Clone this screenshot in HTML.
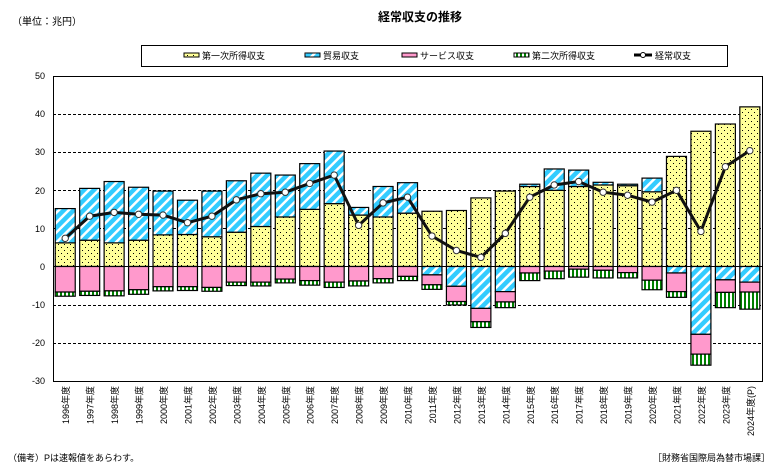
<!DOCTYPE html>
<html><head><meta charset="utf-8">
<style>
body{margin:0;background:#fff;}
svg{display:block;font-family:"Liberation Sans","Noto Sans CJK JP",sans-serif;}
</style></head>
<body>
<svg id="s" width="777" height="470" xmlns="http://www.w3.org/2000/svg">
<defs>
<pattern id="dots" width="6" height="6" patternUnits="userSpaceOnUse"><rect width="6" height="6" fill="#FFFF99"/><rect x="1" y="1" width="1" height="1" fill="#000"/><rect x="4" y="4" width="1" height="1" fill="#000"/></pattern>
<pattern id="diag" width="7" height="7" patternUnits="userSpaceOnUse" patternTransform="rotate(45)"><rect width="7" height="7" fill="#33CCFF"/><rect width="2.5" height="7" fill="#fff"/></pattern>
<pattern id="vert" width="4" height="4" patternUnits="userSpaceOnUse"><rect width="4" height="4" fill="#fff"/><rect width="2" height="4" fill="#008000"/></pattern>
</defs>
<text x="12" y="25" font-size="10">（単位：兆円）</text>
<text x="420" y="21" font-size="12" font-weight="bold" text-anchor="middle">経常収支の推移</text>
<rect x="141.5" y="45.5" width="586" height="21" fill="#fff" stroke="#000"/>
<rect x="184" y="53" width="15" height="4" fill="url(#dots)" stroke="#000" stroke-width="1"/><text x="202" y="59" font-size="9">第一次所得収支</text>
<rect x="305" y="53" width="15" height="4" fill="url(#diag)" stroke="#000"/><text x="323" y="59" font-size="9">貿易収支</text>
<rect x="402" y="53" width="15" height="4" fill="#FF99CC" stroke="#000"/><text x="420" y="59" font-size="9">サービス収支</text>
<rect x="514" y="53" width="15" height="4" fill="url(#vert)" stroke="#000"/><text x="532" y="59" font-size="9">第二次所得収支</text>
<line x1="634" y1="55" x2="652" y2="55" stroke="#000" stroke-width="3"/><circle cx="643" cy="55" r="2.5" fill="#fff" stroke="#000"/><text x="655" y="59" font-size="9">経常収支</text>
<g font-size="9" text-anchor="end">
<text x="45" y="79">50</text><text x="45" y="117">40</text><text x="45" y="155">30</text><text x="45" y="194">20</text><text x="45" y="232">10</text><text x="45" y="270">0</text><text x="45" y="308">-10</text><text x="45" y="346">-20</text><text x="45" y="384">-30</text>
</g>
<g stroke="#000" stroke-dasharray="3,2" stroke-width="1">
<line x1="53" y1="114.5" x2="762" y2="114.5"/><line x1="53" y1="152.5" x2="762" y2="152.5"/><line x1="53" y1="190.5" x2="762" y2="190.5"/><line x1="53" y1="228.5" x2="762" y2="228.5"/><line x1="53" y1="305.5" x2="762" y2="305.5"/><line x1="53" y1="343.5" x2="762" y2="343.5"/>
</g>
<g id="bars"></g>
<line x1="53" y1="266.5" x2="762" y2="266.5" stroke="#000"/>
<g id="ln"></g>
<rect x="53.5" y="76.5" width="709" height="305" fill="none" stroke="#000"/>
<g font-size="9" text-anchor="end">
<text transform="translate(69.2,386) rotate(-90)">1996年度</text>
<text transform="translate(93.7,386) rotate(-90)">1997年度</text>
<text transform="translate(118.1,386) rotate(-90)">1998年度</text>
<text transform="translate(142.6,386) rotate(-90)">1999年度</text>
<text transform="translate(167,386) rotate(-90)">2000年度</text>
<text transform="translate(191.5,386) rotate(-90)">2001年度</text>
<text transform="translate(215.9,386) rotate(-90)">2002年度</text>
<text transform="translate(240.4,386) rotate(-90)">2003年度</text>
<text transform="translate(264.8,386) rotate(-90)">2004年度</text>
<text transform="translate(289.3,386) rotate(-90)">2005年度</text>
<text transform="translate(313.7,386) rotate(-90)">2006年度</text>
<text transform="translate(338.2,386) rotate(-90)">2007年度</text>
<text transform="translate(362.6,386) rotate(-90)">2008年度</text>
<text transform="translate(387.1,386) rotate(-90)">2009年度</text>
<text transform="translate(411.5,386) rotate(-90)">2010年度</text>
<text transform="translate(436,386) rotate(-90)">2011年度</text>
<text transform="translate(460.4,386) rotate(-90)">2012年度</text>
<text transform="translate(484.9,386) rotate(-90)">2013年度</text>
<text transform="translate(509.3,386) rotate(-90)">2014年度</text>
<text transform="translate(533.8,386) rotate(-90)">2015年度</text>
<text transform="translate(558.2,386) rotate(-90)">2016年度</text>
<text transform="translate(582.7,386) rotate(-90)">2017年度</text>
<text transform="translate(607.1,386) rotate(-90)">2018年度</text>
<text transform="translate(631.6,386) rotate(-90)">2019年度</text>
<text transform="translate(656,386) rotate(-90)">2020年度</text>
<text transform="translate(680.5,386) rotate(-90)">2021年度</text>
<text transform="translate(704.9,386) rotate(-90)">2022年度</text>
<text transform="translate(729.4,386) rotate(-90)">2023年度</text>
<text transform="translate(753.8,386) rotate(-90)">2024年度(P)</text>
</g>
<text x="8" y="461" font-size="9">（備考）Pは速報値をあらわす。</text>
<text x="770" y="461" font-size="9" text-anchor="end">［財務省国際局為替市場課］</text>
</svg>
<script>
var D=[[6.2,9.0,-6.7,-1.1,7.4],[6.9,13.6,-6.5,-1.1,13.2],[6.2,16.1,-6.4,-1.3,14.2],[6.9,13.9,-6.1,-1.2,13.7],[8.3,11.5,-5.3,-1.1,13.5],[8.4,9.0,-5.3,-1.0,11.5],[7.8,12.0,-5.5,-1.0,13.2],[9.0,13.5,-4.1,-0.9,17.5],[10.5,14.0,-4.1,-1.0,19.1],[13.0,11.0,-3.3,-1.0,19.5],[15.0,12.0,-3.7,-1.2,21.8],[16.5,13.8,-4.1,-1.4,24.0],[13.5,2.0,-3.8,-1.3,10.8],[13.0,8.0,-3.2,-1.1,16.7],[14.0,8.0,-2.6,-1.1,18.2],[14.5,-2.2,-2.6,-1.2,8.0],[14.7,-5.2,-4.0,-0.9,4.2],[18.0,-11.0,-3.5,-1.5,2.4],[19.8,-6.6,-2.7,-1.5,8.7],[21.0,0.6,-1.7,-2.0,18.2],[20.0,5.6,-1.2,-2.0,21.4],[21.0,4.3,-0.7,-2.1,22.3],[21.4,0.7,-1.0,-2.0,19.5],[21.2,0.4,-1.6,-1.4,18.7],[19.6,3.6,-3.6,-2.5,16.9],[28.9,-1.7,-4.9,-1.5,20.0],[35.5,-17.8,-5.2,-2.9,9.2],[37.4,-3.5,-3.3,-4.0,26.2],[41.9,-4.1,-2.6,-4.5,30.4]];
var NS="http://www.w3.org/2000/svg",B=document.getElementById("bars"),L=document.getElementById("ln");
function Y(v){return 266.5-3.81*v;}
function r(x,a,b,f){var e=document.createElementNS(NS,"rect");var t=Math.min(Y(a),Y(b)),h=Math.abs(Y(a)-Y(b));e.setAttribute("x",x);e.setAttribute("y",t);e.setAttribute("width",20);e.setAttribute("height",h);e.setAttribute("fill",f);e.setAttribute("stroke","#000");e.setAttribute("stroke-width","1.2");B.appendChild(e);}
var pts=[];
D.forEach(function(d,i){var cx=53+24.45*(i+0.5),x=cx-10;var p=d[0],n=0;
r(x,0,p,"url(#dots)");
if(d[1]>=0){r(x,p,p+d[1],"url(#diag)");}else{r(x,0,d[1],"url(#diag)");n=d[1];}
r(x,n,n+d[2],"#FF99CC");n+=d[2];r(x,n,n+d[3],"url(#vert)");
pts.push([cx,Y(d[4])]);});
var pl=document.createElementNS(NS,"polyline");pl.setAttribute("points",pts.map(function(p){return p.join(",")}).join(" "));pl.setAttribute("fill","none");pl.setAttribute("stroke","#111");pl.setAttribute("stroke-width","3");L.appendChild(pl);
pts.forEach(function(p){var c=document.createElementNS(NS,"circle");c.setAttribute("cx",p[0]);c.setAttribute("cy",p[1]);c.setAttribute("r",3.2);c.setAttribute("fill","#fff");c.setAttribute("stroke","#333");L.appendChild(c);});
</script>
</body></html>
